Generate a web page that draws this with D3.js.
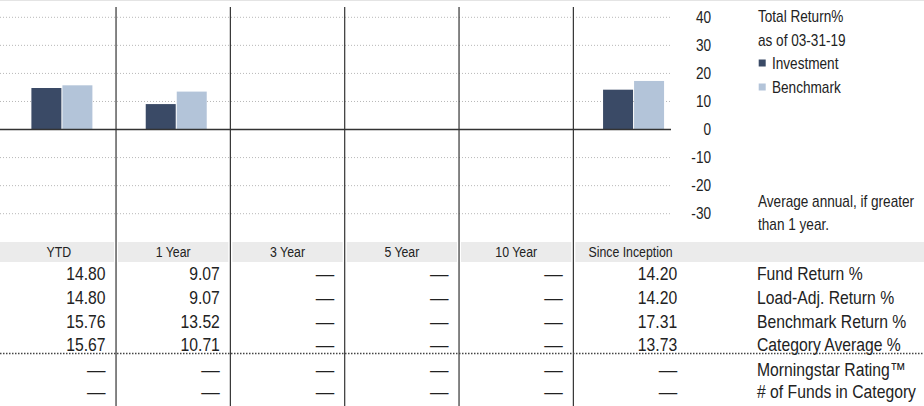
<!DOCTYPE html>
<html>
<head>
<meta charset="utf-8">
<script src="https://cdn.jsdelivr.net/npm/d3@7"></script>
<style>
  html, body { margin: 0; padding: 0; background: #fff; }
  svg { display: block; }
  text { font-family: "Liberation Sans", Arial, sans-serif; fill: #222; }
</style>
</head>
<body>
<div id="chart"></div>
<script>
let width = 924,
	height = 406,
	narrow = 0.85; // squeeze Liberation Sans to look like a condensed face

// data
let periods = ['YTD', '1 Year', '3 Year', '5 Year', '10 Year', 'Since Inception'];
let fundReturn = [14.80, 9.07, null, null, null, 14.20];
let loadAdjReturn = [14.80, 9.07, null, null, null, 14.20];
let benchmarkReturn = [15.76, 13.52, null, null, null, 17.31];
let categoryAverage = [15.67, 10.71, null, null, null, 13.73];
let morningstarRating = [null, null, null, null, null, null];
let fundsInCategory = [null, null, null, null, null, null];
let rowLabels = ['Fund Return %', 'Load-Adj. Return %', 'Benchmark Return %', 'Category Average %', 'Morningstar Rating\u2122', '# of Funds in Category'];
let yTicks = [40, 30, 20, 10, 0, -10, -20, -30];
let seriesNames = ['Investment', 'Benchmark'];
let seriesColors = ['#3a4a66', '#b3c4d9'];
let legendTitle = ['Total Return%', 'as of 03-31-19'];
let footNote = ['Average annual, if greater', 'than 1 year.'];

let svg = d3.select('#chart').append('svg').attr('width', width).attr('height', height);

let x = d3.scaleBand().domain(periods).range([1.7, 687.7]);
let y = d3.scaleLinear().domain([-30, 40]).range([213.7, 17.3]);
let xs = d3.scaleBand().domain(seriesNames).range([29.7, 90.7]).paddingInner(0.033);

// put a squeezed text at (px, py)
function at(px, py) {
	return `translate(${px},${py}) scale(${narrow},1)`;
}

// top rule
svg.append('line').attr('x1', 0).attr('x2', width).attr('y1', 0.5).attr('y2', 0.5)
	.attr('stroke', '#e4e4e4').attr('stroke-width', 1);

// gridlines
svg.append('g').selectAll('line').data(yTicks.filter(d => d !== 0)).enter().append('line')
	.attr('x1', 0).attr('x2', 671)
	.attr('y1', d => y(d)).attr('y2', d => y(d))
	.attr('stroke', '#b8b8b8').attr('stroke-dasharray', '1,2');

// y axis labels on the right
let yAxis = d3.axisRight(y).tickValues(yTicks).tickSize(0).tickPadding(0).tickFormat(d => String(d));
let ag = svg.append('g').attr('transform', 'translate(711,0)').call(yAxis);
ag.select('.domain').remove();
ag.selectAll('text').attr('text-anchor', 'end').attr('x', 0)
	.attr('transform', `scale(${narrow},1)`)
	.style('font-family', '"Liberation Sans", Arial, sans-serif')
	.style('font-size', '16px').attr('fill', '#222');

// header background cells
svg.append('g').selectAll('rect').data(periods).enter().append('rect')
	.attr('x', (d, i) => i === 0 ? 0 : x(d) + 2)
	.attr('width', (d, i) => {
		let left = i === 0 ? 0 : x(d) + 2;
		let right = i === periods.length - 1 ? width : x(d) + x.bandwidth() - 2;
		return right - left;
	})
	.attr('y', 242).attr('height', 20)
	.attr('fill', '#ebebeb');

// bars
let barData = [];
periods.forEach((p, i) => {
	if (fundReturn[i] !== null) barData.push({p: p, s: 'Investment', v: fundReturn[i]});
	if (benchmarkReturn[i] !== null) barData.push({p: p, s: 'Benchmark', v: benchmarkReturn[i]});
});
svg.append('g').selectAll('rect').data(barData).enter().append('rect')
	.attr('x', d => x(d.p) + xs(d.s))
	.attr('width', xs.bandwidth())
	.attr('y', d => y(Math.max(0, d.v)))
	.attr('height', d => Math.abs(y(d.v) - y(0)))
	.attr('fill', d => seriesColors[seriesNames.indexOf(d.s)]);

// zero line
svg.append('line').attr('x1', 0).attr('x2', 671).attr('y1', y(0)).attr('y2', y(0))
	.attr('stroke', '#333').attr('stroke-width', 1.4);

// column dividers
svg.append('g').selectAll('line').data(periods.slice(1)).enter().append('line')
	.attr('x1', d => x(d)).attr('x2', d => x(d))
	.attr('y1', 7).attr('y2', height)
	.attr('stroke', '#333').attr('stroke-width', 1.2);

// legend
let lg = svg.append('g').attr('transform', 'translate(758,0)');
lg.selectAll('text.title').data(legendTitle).enter().append('text')
	.attr('class', 'title')
	.attr('transform', (d, i) => at(0, 16 + i * 24)).attr('dy', '0.35em')
	.style('font-size', '16px').text(d => d);
let li = lg.selectAll('g.item').data(seriesNames).enter().append('g')
	.attr('class', 'item')
	.attr('transform', (d, i) => `translate(0,${63 + i * 24})`);
li.append('rect').attr('x', 0.7).attr('y', -3.5).attr('width', 7).attr('height', 7)
	.attr('fill', (d, i) => seriesColors[i]);
li.append('text').attr('transform', at(14, 0)).attr('dy', '0.35em').style('font-size', '16px').text(d => d);
lg.selectAll('text.note').data(footNote).enter().append('text')
	.attr('class', 'note')
	.attr('transform', (d, i) => at(0, 201 + i * 23.5)).attr('dy', '0.35em')
	.style('font-size', '16px').text(d => d);

// table header text
svg.append('g').selectAll('text').data(periods).enter().append('text')
	.attr('transform', d => at(x(d) + x.bandwidth() / 2, 252)).attr('dy', '0.35em')
	.attr('text-anchor', 'middle')
	.style('font-size', '14.5px').attr('fill', '#333')
	.text(d => d);

// table body
let rows = [fundReturn, loadAdjReturn, benchmarkReturn, categoryAverage, morningstarRating, fundsInCategory];
let rowY = [274, 297.6, 321.2, 344.8, 369.5, 392];
let fmt = d3.format('.2f');
rows.forEach((row, r) => {
	svg.append('g').selectAll('text').data(row).enter().append('text')
		.attr('transform', (d, i) => d === null
			? `translate(${x(periods[i]) + x.bandwidth() - 10.5},${rowY[r]})`
			: at(x(periods[i]) + x.bandwidth() - 10.5, rowY[r]))
		.attr('dy', '0.35em')
		.attr('text-anchor', 'end')
		.style('font-size', '18.5px')
		.text(d => d === null ? '\u2014' : fmt(d));
});
svg.append('g').selectAll('text').data(rowLabels).enter().append('text')
	.attr('transform', (d, i) => at(757, rowY[i])).attr('dy', '0.35em')
	.style('font-size', '18.5px')
	.text(d => d);

// dotted separator
svg.append('line').attr('x1', 0).attr('x2', width).attr('y1', 353.5).attr('y2', 353.5)
	.attr('stroke', '#444').attr('stroke-width', 1.5).attr('stroke-dasharray', '1.5,1.5');
</script>
</body>
</html>
